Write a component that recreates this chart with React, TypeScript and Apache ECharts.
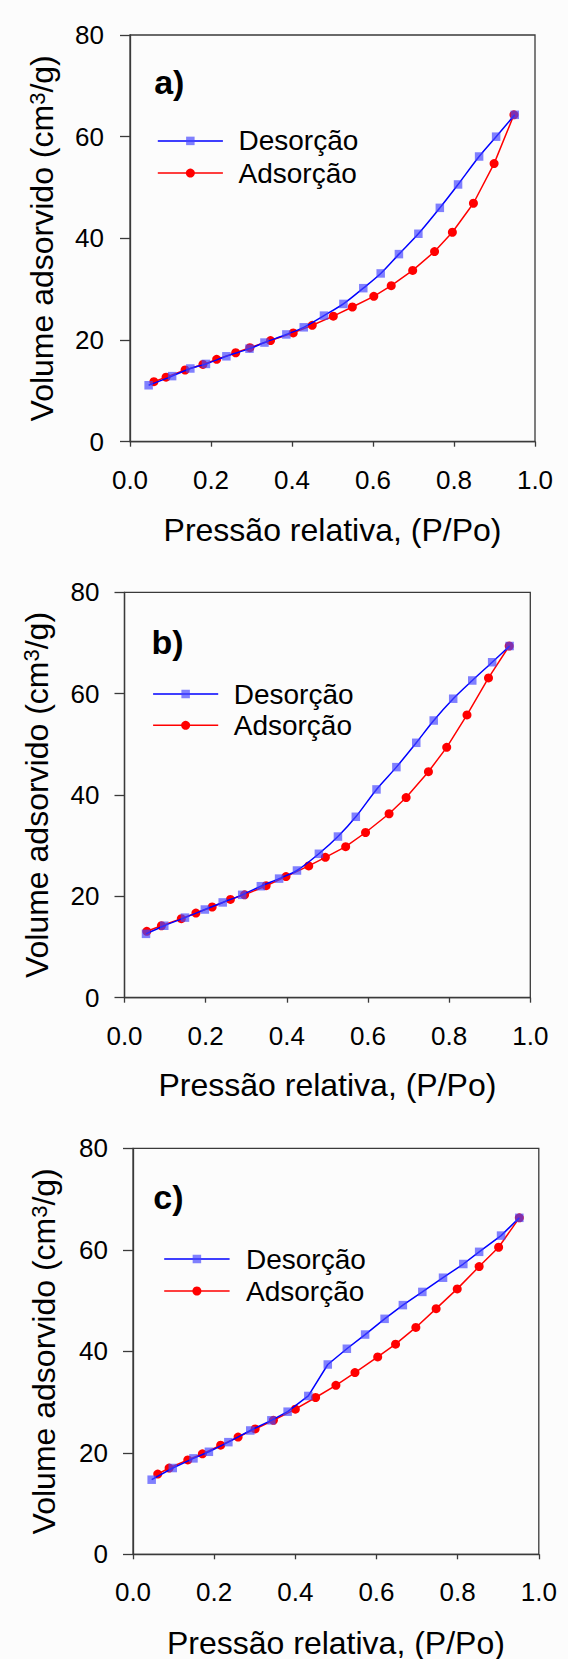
import React, { useEffect, useRef } from "react";
import * as echarts from "echarts";

// ---------- data ----------
const seriesNames = ["Desorção", "Adsorção"];
const panelLabels = ["a)", "b)", "c)"];
const xTitle = "Pressão relativa, (P/Po)";
const yTitleMain = "Volume adsorvido (cm";
const yTitleSup = "3";
const yTitleEnd = "/g)";
const xTickValues = [0, 0.2, 0.4, 0.6, 0.8, 1.0];
const yTickValues = [0, 20, 40, 60, 80];

const desorcaoA = [
  [0.046, 11.1], [0.104, 12.9], [0.149, 14.4], [0.1875, 15.3], [0.238, 16.8],
  [0.295, 18.3], [0.332, 19.5], [0.386, 21.1], [0.429, 22.5], [0.479, 24.8],
  [0.527, 27.1], [0.576, 30.2], [0.619, 33.1], [0.664, 36.9], [0.712, 40.9],
  [0.765, 46.0], [0.81, 50.6], [0.862, 56.1], [0.904, 60.0], [0.95, 64.3],
];
const adsorcaoA = [
  [0.059, 11.8], [0.089, 12.7], [0.136, 14.1], [0.18, 15.2], [0.214, 16.2],
  [0.261, 17.5], [0.296, 18.5], [0.347, 19.9], [0.403, 21.4], [0.45, 22.9],
  [0.502, 24.7], [0.549, 26.5], [0.602, 28.6], [0.645, 30.7], [0.698, 33.7],
  [0.752, 37.4], [0.796, 41.2], [0.848, 46.9], [0.899, 54.7], [0.948, 64.3],
];
const desorcaoB = [
  [0.053, 12.6], [0.098, 14.2], [0.149, 15.8], [0.198, 17.4], [0.242, 18.8],
  [0.29, 20.3], [0.336, 22.0], [0.381, 23.5], [0.425, 25.1], [0.479, 28.4],
  [0.526, 31.8], [0.57, 35.7], [0.621, 41.1], [0.67, 45.5], [0.719, 50.3],
  [0.762, 54.7], [0.81, 59.0], [0.857, 62.6], [0.906, 66.2], [0.949, 69.4],
];
const adsorcaoB = [
  [0.055, 13.1], [0.091, 14.2], [0.14, 15.6], [0.176, 16.7], [0.216, 17.9],
  [0.261, 19.4], [0.296, 20.3], [0.349, 22.1], [0.398, 23.9], [0.454, 26.0],
  [0.495, 27.7], [0.545, 29.8], [0.594, 32.6], [0.652, 36.3], [0.694, 39.5],
  [0.749, 44.6], [0.794, 49.4], [0.844, 55.8], [0.897, 63.1], [0.948, 69.4],
];
const desorcaoC = [
  [0.046, 14.7], [0.098, 17.0], [0.149, 18.9], [0.187, 20.2], [0.235, 22.1],
  [0.289, 24.4], [0.341, 26.4], [0.381, 28.1], [0.432, 31.2], [0.48, 37.4],
  [0.527, 40.5], [0.572, 43.3], [0.62, 46.4], [0.665, 49.1], [0.713, 51.7],
  [0.764, 54.5], [0.814, 57.2], [0.853, 59.6], [0.907, 62.8], [0.952, 66.3],
];
const adsorcaoC = [
  [0.061, 15.8], [0.089, 17.0], [0.135, 18.6], [0.171, 19.8], [0.216, 21.5],
  [0.259, 23.1], [0.301, 24.7], [0.346, 26.4], [0.4, 28.6], [0.45, 30.9],
  [0.5, 33.3], [0.547, 35.8], [0.603, 38.9], [0.647, 41.4], [0.697, 44.7],
  [0.747, 48.4], [0.799, 52.3], [0.853, 56.7], [0.901, 60.5], [0.952, 66.3],
];

const desorcao = [desorcaoA, desorcaoB, desorcaoC];
const adsorcao = [adsorcaoA, adsorcaoB, adsorcaoC];
const desorcaoSmooth = [0.3, 0.3, 0];

// ---------- layout ----------
const W = 568;
const H = 1659;
const FONT = "'Liberation Sans', Arial, sans-serif";
const AXIS_COLOR = "#3a3a3a";
const BLUE = "#0000ff";
const BLUE_MARK = "rgba(70,70,255,0.68)";
const RED = "#ff0000";

const panels = [
  { left: 130, top: 35, width: 405, height: 406.7, yMargin: 26,
    yTitleX: 42.3, xTitleY: 530,
    labelX: 154.2, labelY: 81.9,
    legX1: 157.8, legX2: 222.9, legY1: 140.9, legY2: 173.1, legTextX: 238.5 },
  { left: 124.5, top: 592.3, width: 405.8, height: 405.4, yMargin: 25,
    yTitleX: 36.7, xTitleY: 1085,
    labelX: 151.6, labelY: 642.2,
    legX1: 153.1, legX2: 218.2, legY1: 694, legY2: 725.3, legTextX: 233.7 },
  { left: 133, top: 1148.3, width: 405.8, height: 406, yMargin: 25,
    yTitleX: 44.3, xTitleY: 1642.5,
    labelX: 153.3, labelY: 1196.7,
    legX1: 164.2, legX2: 229.6, legY1: 1259, legY2: 1291, legTextX: 246 },
];

function buildOption() {
  const grid: any[] = [];
  const xAxis: any[] = [];
  const yAxis: any[] = [];
  const series: any[] = [];
  const graphic: any[] = [];

  panels.forEach((p, i) => {
    grid.push({
      left: p.left, top: p.top, width: p.width, height: p.height,
      containLabel: false, outerBoundsMode: "none",
      show: true, borderColor: AXIS_COLOR, borderWidth: 1.3, backgroundColor: "transparent",
    });
    xAxis.push({
      type: "value", gridIndex: i,
      min: xTickValues[0], max: xTickValues[xTickValues.length - 1],
      interval: xTickValues[1] - xTickValues[0],
      axisLine: { show: true, onZero: false, lineStyle: { color: AXIS_COLOR, width: 1.3 } },
      axisTick: { show: true, inside: false, length: 5, lineStyle: { color: AXIS_COLOR, width: 1.3 } },
      axisLabel: { margin: 25, fontSize: 26, fontFamily: FONT, color: "#000",
        formatter: (v: number) => v.toFixed(1) },
      splitLine: { show: false },
    });
    yAxis.push({
      type: "value", gridIndex: i,
      min: yTickValues[0], max: yTickValues[yTickValues.length - 1],
      interval: yTickValues[1] - yTickValues[0],
      axisLine: { show: true, onZero: false, lineStyle: { color: AXIS_COLOR, width: 1.3 } },
      axisTick: { show: true, inside: false, length: 10, lineStyle: { color: AXIS_COLOR, width: 1.3 } },
      axisLabel: { margin: p.yMargin, fontSize: 26, fontFamily: FONT, color: "#000" },
      splitLine: { show: false },
    });
    series.push({
      type: "line", name: seriesNames[1], xAxisIndex: i, yAxisIndex: i,
      data: adsorcao[i], symbol: "circle", symbolSize: 9,
      itemStyle: { color: RED },
      lineStyle: { color: RED, width: 1.5 },
      z: 2,
    });
    series.push({
      type: "line", name: seriesNames[0], xAxisIndex: i, yAxisIndex: i,
      data: desorcao[i], symbol: "rect", symbolSize: 8.5, smooth: desorcaoSmooth[i],
      itemStyle: { color: BLUE_MARK },
      lineStyle: { color: BLUE, width: 1.5 },
      z: 3,
    });

    // panel label
    graphic.push({
      type: "text", x: p.labelX, y: p.labelY,
      style: { text: panelLabels[i], fontSize: 34, fontWeight: "bold", fontFamily: FONT,
        fill: "#000", align: "left", verticalAlign: "middle" },
    });
    // legend
    const rows = [
      { y: p.legY1, color: BLUE, markColor: BLUE_MARK, shape: "rect", name: seriesNames[0] },
      { y: p.legY2, color: RED, markColor: RED, shape: "circle", name: seriesNames[1] },
    ];
    rows.forEach((r) => {
      graphic.push({
        type: "line",
        shape: { x1: p.legX1, y1: r.y, x2: p.legX2, y2: r.y },
        style: { stroke: r.color, lineWidth: 1.5 },
      });
      const cx = (p.legX1 + p.legX2) / 2;
      if (r.shape === "rect") {
        graphic.push({ type: "rect", shape: { x: cx - 4.25, y: r.y - 4.25, width: 8.5, height: 8.5 },
          style: { fill: r.markColor } });
      } else {
        graphic.push({ type: "circle", shape: { cx, cy: r.y, r: 4.5 }, style: { fill: r.markColor } });
      }
      graphic.push({
        type: "text", x: p.legTextX, y: r.y,
        style: { text: r.name, fontSize: 28, fontFamily: FONT, fill: "#000",
          align: "left", verticalAlign: "middle" },
      });
    });
    // x title
    graphic.push({
      type: "text", x: p.left + p.width / 2, y: p.xTitleY,
      style: { text: xTitle, fontSize: 32, fontFamily: FONT, fill: "#000",
        align: "center", verticalAlign: "middle" },
    });
    // y title (rotated, with superscript)
    graphic.push({
      type: "text", x: p.yTitleX, y: p.top + p.height / 2, rotation: Math.PI / 2,
      style: {
        text: `{m|${yTitleMain}}{s|${yTitleSup}}{m|${yTitleEnd}}`,
        fontFamily: FONT, fontSize: 32, fill: "#000",
        align: "center", verticalAlign: "middle",
        rich: {
          m: { fontSize: 32, fontFamily: FONT, fill: "#000", lineHeight: 32, verticalAlign: "bottom" },
          s: { fontSize: 22, fontFamily: FONT, fill: "#000", lineHeight: 6, verticalAlign: "top" },
        },
      },
    });
  });

  return {
    animation: false,
    backgroundColor: "#fcfcfc",
    grid, xAxis, yAxis, series, graphic,
  };
}

export default function App() {
  const ref = useRef<HTMLDivElement>(null);
  useEffect(() => {
    document.body.style.margin = "0";
    if (!ref.current) return;
    const chart = echarts.init(ref.current, null, { renderer: "svg", width: W, height: H });
    chart.setOption(buildOption());
    return () => chart.dispose();
  }, []);
  return <div ref={ref} style={{ width: W, height: H }} />;
}
